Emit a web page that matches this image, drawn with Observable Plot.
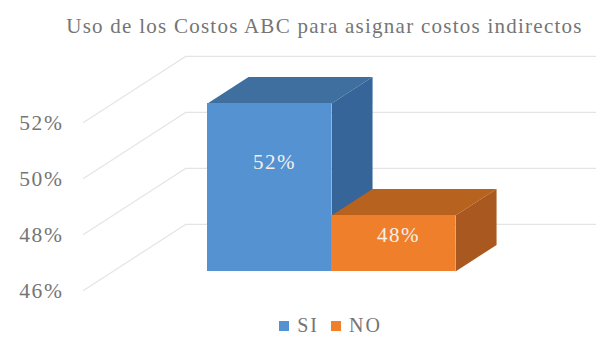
<!DOCTYPE html>
<html lang="es">
<head>
<meta charset="utf-8">
<script src="https://cdn.jsdelivr.net/npm/d3@7"></script>
<script src="https://cdn.jsdelivr.net/npm/@observablehq/plot@0.6"></script>
<style>
  html, body { margin: 0; padding: 0; background: #fff; overflow: hidden; }
  #title { height: 40px; box-sizing: border-box; padding-top: 14px; padding-left: 48px; text-align: center;
           font: 21px "Liberation Serif", serif; letter-spacing: 1.25px; color: #757575; line-height: 24px; white-space: nowrap; }
  #legend { display: flex; justify-content: center; height: 27px; box-sizing: border-box; padding-left: 72px; padding-top: 5px; }
  #legend > div { min-height: 0 !important; height: 21px; margin: 0 !important; line-height: 21px; }
  #legend span { margin-right: 12px; }
  #legend svg { margin-right: 8px !important; }
  .tick-label { letter-spacing: 1.6px; }
  .value-label { letter-spacing: 1.5px; }
</style>
</head>
<body>
<div id="title"></div>
<div id="chart"></div>
<div id="legend"></div>
<script>
const chartTitle = "Uso de los Costos ABC para asignar costos indirectos";
const categories = ["SI", "NO"];
const percents = [52, 48];
const tickValues = [46, 48, 50, 52];
const barColors = ["#5592d2", "#f07f2c"];
const topColors = ["#3e6f9e", "#b8621f"];
const sideColors = ["#36659a", "#a9591f"];

// Oblique projection: moving from the front of the floor (depth 0) to the back wall (depth 1).
const xPerDepth = 0.823;
const yPerDepth = 2.36;
const barFront = 0.288;
const barBack = 0.69;
const floorValue = 46;
const wallLeft = -0.763;
const wallRight = 2.543;

const project = (x, value, depth) => ({
  x: x + (depth - barFront) * xPerDepth,
  y: value + (depth - barFront) * yPerDepth
});

const rows = categories.map((category, i) => ({category, i, value: percents[i]}));

// Grid lines run along the left wall, then across the back wall.
const gridLines = tickValues.flatMap((t) => [
  {tick: t, ...project(wallLeft, t, 0)},
  {tick: t, ...project(wallLeft, t, 1)},
  {tick: t, ...project(wallRight, t, 1)}
]);

const quad = (a, b, c, d) => [a, b, c, d];
const topFace = ({i, value}) => quad(
  project(i, value, barFront), project(i + 1, value, barFront),
  project(i + 1, value, barBack), project(i, value, barBack)
);
const sideFace = ({i, value}) => quad(
  project(i + 1, floorValue, barFront), project(i + 1, value, barFront),
  project(i + 1, value, barBack), project(i + 1, floorValue, barBack)
);

const barMarks = rows.flatMap((row) => [
  Plot.line(topFace(row), {x: "x", y: "y", fill: topColors[row.i], stroke: "none", curve: "linear-closed"}),
  Plot.line(sideFace(row), {x: "x", y: "y", fill: sideColors[row.i], stroke: "none", curve: "linear-closed"}),
  Plot.rect([row], {
    x1: "i",
    x2: (d) => d.i + 1,
    y1: floorValue,
    y2: "value",
    fill: "category"
  })
]);

const chart = Plot.plot({
  width: 601,
  height: 270,
  margin: 0,
  x: {axis: null, domain: [-1.669, 3.177], range: [0, 601]},
  y: {axis: null, domain: [44.607, 54.25], range: [270, 0]},
  color: {domain: categories, range: barColors},
  style: {background: "transparent", display: "block"},
  marks: [
    Plot.line(gridLines, {x: "x", y: "y", z: "tick", stroke: "#e4e4e4", strokeWidth: 1.2}),
    ...barMarks,
    Plot.text(tickValues, {
      x: () => project(wallLeft, 0, 0).x,
      y: (t) => project(wallLeft, t, 0).y,
      text: (t) => `${t}%`,
      dx: -20,
      dy: 1,
      textAnchor: "end",
      fontFamily: "Liberation Serif",
      fontSize: 21.5,
      fill: "#757575",
      className: "tick-label"
    }),
    Plot.text(rows, {
      x: (d) => d.i + 0.5,
      y: (d) => floorValue + (d.value - floorValue) * 0.65,
      text: (d) => `${d.value}%`,
      dx: 5,
      fontFamily: "Liberation Serif",
      fontSize: 21,
      fill: "#f4efe9",
      className: "value-label"
    })
  ]
});

document.getElementById("title").textContent = chartTitle;
document.getElementById("chart").append(chart);
document.getElementById("legend").append(chart.legend("color", {
  swatchSize: 10,
  columns: null,
  style: {fontFamily: "Liberation Serif", fontSize: "20px", letterSpacing: "2px", color: "#757575"}
}));
</script>
</body>
</html>
